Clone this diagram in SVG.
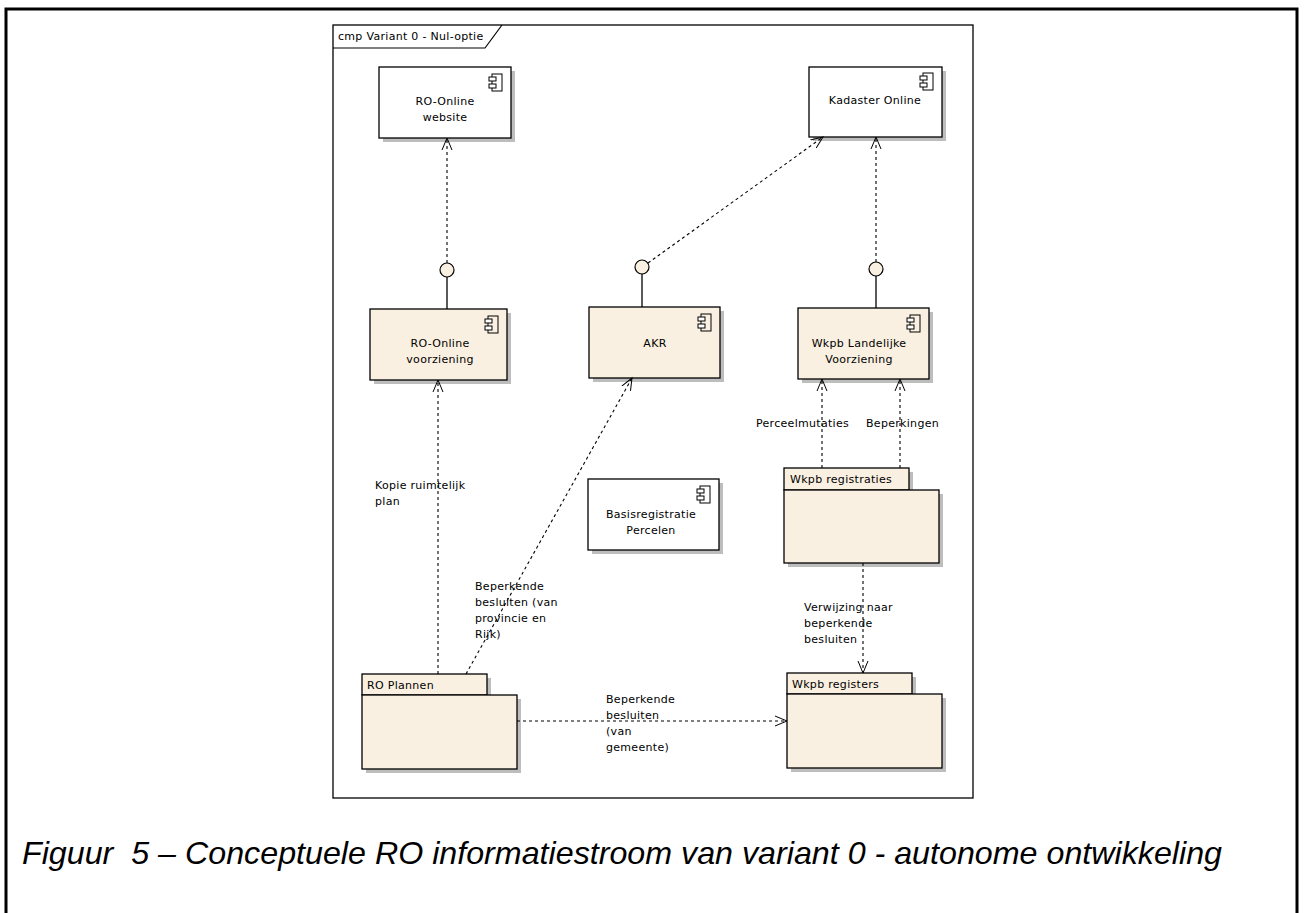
<svg xmlns="http://www.w3.org/2000/svg" width="1304" height="913" viewBox="0 0 1304 913">
<defs>
<style>
.t{font-family:"DejaVu Sans",sans-serif;font-size:11px;letter-spacing:0.3px;fill:#000}
.tc{text-anchor:middle}
.box{fill:#fff;stroke:#000;stroke-width:1.3}
.bx{fill:#FAF0E1;stroke:#000;stroke-width:1.3}
.sh{fill:#BDBDBD}
.dash{fill:none;stroke:#000;stroke-width:1.1;stroke-dasharray:3,3}
.sol{fill:none;stroke:#000;stroke-width:1.3}
.cap{font-family:"Liberation Sans",Arial,sans-serif;font-style:italic;font-size:32px;fill:#000}
</style>
<marker id="arr" markerWidth="14" markerHeight="12" refX="12" refY="6" orient="auto" markerUnits="userSpaceOnUse">
<path d="M0,1 L12,6 L0,11" fill="none" stroke="#000" stroke-width="1"/>
</marker>
<g id="icon">
<rect x="3" y="0" width="10" height="17" fill="none" stroke="#000"/>
<rect x="0" y="3" width="7" height="4" fill="#fff" stroke="#000"/>
<rect x="0" y="10" width="7" height="4" fill="#fff" stroke="#000"/>
</g>
</defs>
<rect x="0" y="0" width="1304" height="913" fill="#fff"/>
<path d="M6,913 V9 H1297 V913" fill="none" stroke="#000" stroke-width="3"/>
<g id="frame">
<rect x="333" y="25" width="640" height="773" fill="#fff" stroke="#000" stroke-width="1.3"/>
<path d="M333,48 H485 L502,25" fill="none" stroke="#000" stroke-width="1.2"/>
<text class="t" x="338" y="40">cmp Variant 0 - Nul-optie</text>
</g>

<g id="ro-online-website">
<rect class="sh" x="383" y="71" width="132" height="71"/>
<rect class="box" x="379" y="67" width="132" height="71"/>
<use href="#icon" x="489" y="74"/>
<text class="t tc" x="445" y="105">RO-Online</text>
<text class="t tc" x="445" y="121">website</text>
</g>

<g id="kadaster-online">
<rect class="sh" x="813" y="71" width="133" height="70"/>
<rect class="box" x="809" y="67" width="133" height="70"/>
<use href="#icon" x="920" y="73"/>
<text class="t tc" x="875" y="104">Kadaster Online</text>
</g>

<g id="ro-online-voorziening">
<rect class="sh" x="374" y="313" width="137" height="71"/>
<rect class="bx" x="370" y="309" width="137" height="71"/>
<use href="#icon" x="485" y="316"/>
<line class="sol" x1="447" y1="277" x2="447" y2="309"/>
<circle cx="447" cy="270" r="7" fill="#FAF0E1" stroke="#000" stroke-width="1.2"/>
<text class="t tc" x="440" y="347">RO-Online</text>
<text class="t tc" x="440" y="363">voorziening</text>
</g>

<g id="akr">
<rect class="sh" x="593" y="311" width="131" height="71"/>
<rect class="bx" x="589" y="307" width="131" height="71"/>
<use href="#icon" x="698" y="314"/>
<line class="sol" x1="642" y1="274" x2="642" y2="307"/>
<circle cx="642" cy="267" r="7" fill="#FAF0E1" stroke="#000" stroke-width="1.2"/>
<text class="t tc" x="655" y="347">AKR</text>
</g>

<g id="wkpb-lv">
<rect class="sh" x="802" y="312" width="131" height="71"/>
<rect class="bx" x="798" y="308" width="131" height="71"/>
<use href="#icon" x="907" y="315"/>
<line class="sol" x1="876" y1="276" x2="876" y2="308"/>
<circle cx="876" cy="269" r="7" fill="#FAF0E1" stroke="#000" stroke-width="1.2"/>
<text class="t tc" x="859" y="347">Wkpb Landelijke</text>
<text class="t tc" x="859" y="363">Voorziening</text>
</g>

<g id="basisregistratie-percelen">
<rect class="sh" x="592" y="483" width="131" height="71"/>
<rect class="box" x="588" y="479" width="131" height="71"/>
<use href="#icon" x="697" y="486"/>
<text class="t tc" x="651" y="518">Basisregistratie</text>
<text class="t tc" x="651" y="534">Percelen</text>
</g>

<g id="wkpb-registraties">
<rect class="sh" x="788" y="472" width="125" height="22"/>
<rect class="sh" x="788" y="494" width="155" height="73"/>
<rect class="bx" x="784" y="468" width="125" height="22"/>
<rect class="bx" x="784" y="490" width="155" height="73"/>
<text class="t" x="790" y="483">Wkpb registraties</text>
</g>

<g id="wkpb-registers">
<rect class="sh" x="791" y="677" width="125" height="21"/>
<rect class="sh" x="791" y="698" width="155" height="74"/>
<rect class="bx" x="787" y="673" width="125" height="21"/>
<rect class="bx" x="787" y="694" width="155" height="74"/>
<text class="t" x="792" y="688">Wkpb registers</text>
</g>

<g id="ro-plannen">
<rect class="sh" x="366" y="678" width="125" height="21"/>
<rect class="sh" x="366" y="699" width="155" height="74"/>
<rect class="bx" x="362" y="674" width="125" height="21"/>
<rect class="bx" x="362" y="695" width="155" height="74"/>
<text class="t" x="367" y="689">RO Plannen</text>
</g>

<g id="connectors">
<line class="dash" x1="447" y1="263" x2="447" y2="138" marker-end="url(#arr)"/>
<line class="dash" x1="648" y1="263" x2="823" y2="137" marker-end="url(#arr)"/>
<line class="dash" x1="876" y1="262" x2="876" y2="137" marker-end="url(#arr)"/>
<line class="dash" x1="438" y1="674" x2="438" y2="380" marker-end="url(#arr)"/>
<line class="dash" x1="466" y1="674" x2="632" y2="378" marker-end="url(#arr)"/>
<line class="dash" x1="822" y1="468" x2="822" y2="379" marker-end="url(#arr)"/>
<line class="dash" x1="900" y1="468" x2="900" y2="379" marker-end="url(#arr)"/>
<line class="dash" x1="863" y1="563" x2="863" y2="673" marker-end="url(#arr)"/>
<line class="dash" x1="517" y1="721" x2="787" y2="721" marker-end="url(#arr)"/>
<text class="t" x="375" y="489">Kopie ruimtelijk</text>
<text class="t" x="375" y="505">plan</text>
<text class="t" x="475" y="590">Beperkende</text>
<text class="t" x="475" y="606">besluiten (van</text>
<text class="t" x="475" y="622">provincie en</text>
<text class="t" x="475" y="638">Rijk)</text>
<text class="t" x="756" y="427">Perceelmutaties</text>
<text class="t" x="866" y="427">Beperkingen</text>
<text class="t" x="804" y="611">Verwijzing naar</text>
<text class="t" x="804" y="627">beperkende</text>
<text class="t" x="804" y="643">besluiten</text>
<text class="t" x="606" y="703">Beperkende</text>
<text class="t" x="606" y="719">besluiten</text>
<text class="t" x="606" y="735">(van</text>
<text class="t" x="606" y="751">gemeente)</text>
</g>

<text class="cap" x="22" y="864" textLength="1200" lengthAdjust="spacingAndGlyphs" xml:space="preserve">Figuur  5 – Conceptuele RO informatiestroom van variant 0 - autonome ontwikkeling</text>
</svg>
